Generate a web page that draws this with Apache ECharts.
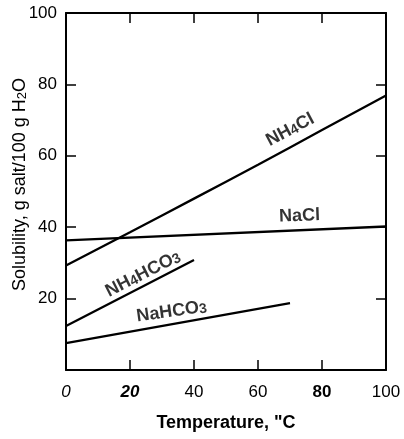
<!DOCTYPE html>
<html>
<head>
<meta charset="utf-8">
<script src="https://cdn.jsdelivr.net/npm/echarts@6/dist/echarts.min.js"></script>
<style>
  html, body { margin: 0; padding: 0; background: #fff; }
  #chart { width: 404px; height: 439px; }
</style>
</head>
<body>
<div id="chart"></div>
<script>
// Solubility (g salt / 100 g H2O) against temperature (°C)
const nh4clTemp = [0, 20, 40, 60, 80, 100];
const nh4clSol  = [29.3, 38.6, 48.0, 57.5, 67.2, 76.9];
const naclTemp  = [0, 100];
const naclSol   = [36.3, 40.2];
const nh4hco3Temp = [0, 40];
const nh4hco3Sol  = [12.3, 30.8];
const nahco3Temp  = [0, 70];
const nahco3Sol   = [7.5, 18.7];

// Curve labels: [temperature, solubility, rotation]
const curveLabels = [
  { text: ['NH', '4', 'Cl'],       at: [70, 67.4], rot: 28 },
  { text: ['NaCl'],                at: [73, 43.3], rot: 2 },
  { text: ['NH', '4', 'HCO', '3'], at: [24, 27.0], rot: 27 },
  { text: ['NaHCO', '3'],          at: [33, 16.5], rot: 8 }
];

// Tick label styling on the temperature axis
const xTickStyle = { 0: 'it', 20: 'itb', 40: 'n', 60: 'n', 80: 'b', 100: 'n' };

const font = 'Liberation Sans, Arial, Helvetica, sans-serif';
const ink = '#000';

function pairs(xs, ys) { return xs.map((x, i) => [x, ys[i]]); }

function richLabel(parts) {
  return parts.map((p, i) => (i % 2 === 1 ? '{s|' + p + '}' : '{m|' + p + '}')).join('');
}

const lineSeries = [
  pairs(nh4clTemp, nh4clSol),
  pairs(naclTemp, naclSol),
  pairs(nh4hco3Temp, nh4hco3Sol),
  pairs(nahco3Temp, nahco3Sol)
].map(d => ({
  type: 'line', data: d, showSymbol: false, smooth: true, silent: true,
  lineStyle: { color: ink, width: 2.3 }
}));

const labelSeries = curveLabels.map(l => ({
  type: 'scatter', symbolSize: 0, silent: true,
  data: [l.at],
  label: {
    show: true, position: 'inside', rotate: l.rot,
    formatter: richLabel(l.text),
    rich: {
      m: { fontFamily: font, fontSize: 18, fontWeight: 'bold', color: ink, lineHeight: 19, verticalAlign: 'bottom' },
      s: { fontFamily: font, fontSize: 14, fontWeight: 'bold', color: ink, lineHeight: 14, verticalAlign: 'bottom' }
    }
  }
}));

const axisLine = { show: true, onZero: false, lineStyle: { color: ink, width: 2 } };
const axisTick = { show: true, inside: true, length: 10, lineStyle: { color: ink, width: 1.5 } };

const chart = echarts.init(document.getElementById('chart'), null, { renderer: 'canvas' });
chart.setOption({
  animation: false,
  backgroundColor: '#fff',
  grid: { left: 66, right: 18, top: 13, bottom: 69, outerBoundsMode: 'none', containLabel: false },
  xAxis: [
    {
      type: 'value', min: 0, max: 100, interval: 20, position: 'bottom',
      axisLine, axisTick, splitLine: { show: false },
      axisLabel: {
        margin: 14,
        formatter: v => '{' + xTickStyle[v] + '|' + v + '}',
        rich: {
          n:   { fontFamily: font, fontSize: 17, color: ink },
          it:  { fontFamily: font, fontSize: 17, color: ink, fontStyle: 'italic' },
          itb: { fontFamily: font, fontSize: 17, color: ink, fontStyle: 'italic', fontWeight: 'bold' },
          b:   { fontFamily: font, fontSize: 17, color: ink, fontWeight: 'bold' }
        }
      },
      name: 'Temperature, "C', nameLocation: 'middle', nameGap: 44, nameMoveOverlap: false,
      nameTextStyle: { fontFamily: font, fontSize: 18, fontWeight: 'bold', color: ink }
    },
    {
      type: 'value', min: 0, max: 100, interval: 20, position: 'top',
      axisLine, axisTick, axisLabel: { show: false }, splitLine: { show: false }
    }
  ],
  yAxis: [
    {
      type: 'value', min: 0, max: 100, interval: 20, position: 'left',
      axisLine, axisTick, splitLine: { show: false },
      axisLabel: { margin: 9, showMinLabel: false, fontFamily: font, fontSize: 17, color: ink },
      name: '{m|Solubility, g salt/100 g H}{s|2}{m|O}', nameLocation: 'middle', nameGap: 37,
      nameMoveOverlap: false,
      nameTextStyle: {
        padding: [0, 0, 0, 14],
        rich: {
          m: { fontFamily: font, fontSize: 18, color: ink, lineHeight: 19, verticalAlign: 'bottom' },
          s: { fontFamily: font, fontSize: 13, color: ink, lineHeight: 13, verticalAlign: 'bottom' }
        }
      }
    },
    {
      type: 'value', min: 0, max: 100, interval: 20, position: 'right',
      axisLine, axisTick, axisLabel: { show: false }, splitLine: { show: false }
    }
  ],
  series: lineSeries.concat(labelSeries)
});
</script>
</body>
</html>
